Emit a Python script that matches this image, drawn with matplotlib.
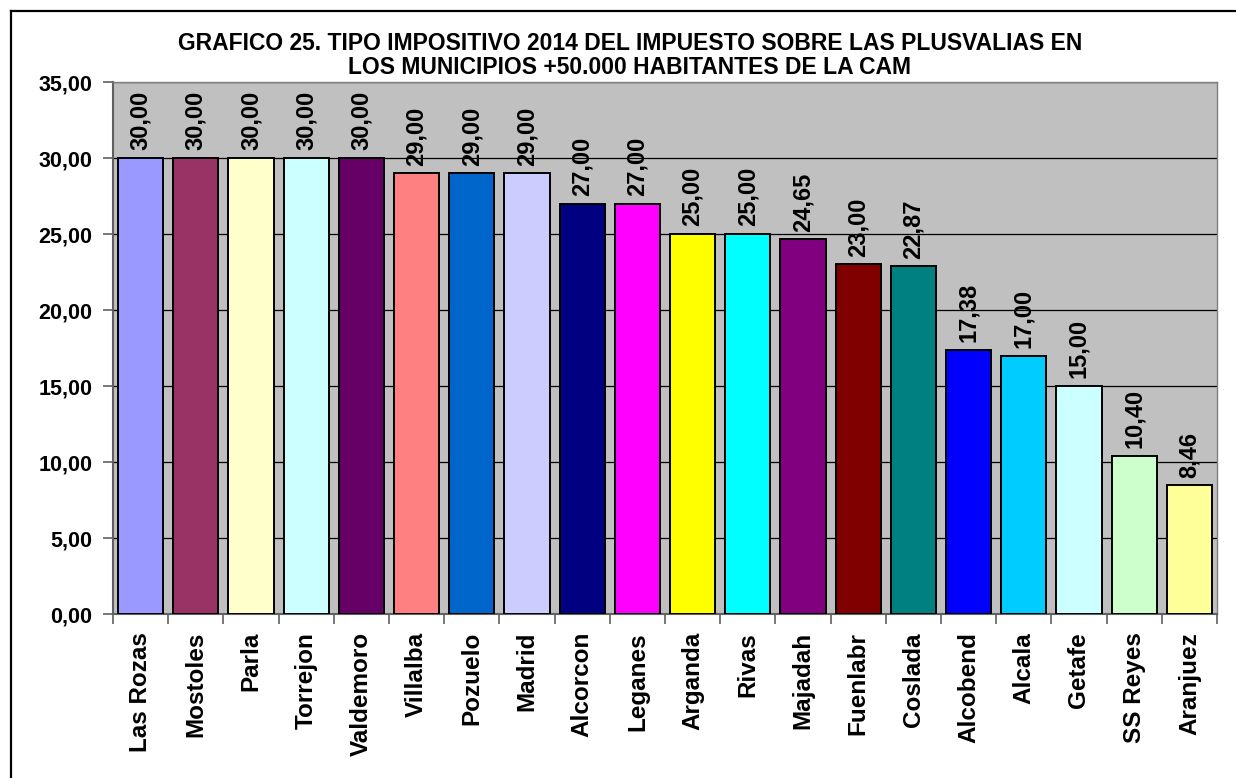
import numpy as np
import matplotlib
matplotlib.use('Agg')
import matplotlib.pyplot as plt
from matplotlib.lines import Line2D

# Data
municipios = ['Las Rozas', 'Mostoles', 'Parla', 'Torrejon', 'Valdemoro', 'Villalba',
              'Pozuelo', 'Madrid', 'Alcorcon', 'Leganes', 'Arganda', 'Rivas',
              'Majadah', 'Fuenlabr', 'Coslada', 'Alcobend', 'Alcala', 'Getafe',
              'SS Reyes', 'Aranjuez']
tipos = [30.00, 30.00, 30.00, 30.00, 30.00, 29.00, 29.00, 29.00, 27.00, 27.00,
         25.00, 25.00, 24.65, 23.00, 22.87, 17.38, 17.00, 15.00, 10.40, 8.46]
colores = ['#9999FF', '#993366', '#FFFFCC', '#CCFFFF', '#660066', '#FF8080',
           '#0066CC', '#CCCCFF', '#000080', '#FF00FF', '#FFFF00', '#00FFFF',
           '#800080', '#800000', '#008080', '#0000FF', '#00CCFF', '#CCFFFF',
           '#CCFFCC', '#FFFF99']
yticks = [0, 5, 10, 15, 20, 25, 30, 35]

plt.rcParams['font.family'] = ['Liberation Sans', 'DejaVu Sans']
plt.rcParams['font.weight'] = 'bold'

W, H = 1236, 778
fig = plt.figure(figsize=(W / 100, H / 100), dpi=100)
ax = fig.add_axes([113 / W, 1 - 614 / H, (1217 - 113) / W, (614 - 82) / H])
ax.set_facecolor('#C0C0C0')

x = np.arange(len(municipios))
ax.bar(x, tipos, width=0.82, color=colores, edgecolor='black', linewidth=1.4, zorder=3)

for xi, v in zip(x, tipos):
    ax.text(xi, v + 0.5, f'{v:.2f}'.replace('.', ','), rotation=90,
            ha='center', va='bottom', fontsize=17, fontweight='bold', zorder=4)

ax.set_xlim(-0.5, len(municipios) - 0.5)
ax.set_ylim(0, 35)
ax.set_yticks(yticks)
ax.set_yticklabels([f'{t:.2f}'.replace('.', ',') for t in yticks],
                   fontsize=15.5, fontweight='bold')
ax.yaxis.grid(True, color='black', linewidth=0.9, zorder=0)
ax.set_axisbelow(True)

ax.set_xticks(x)
ax.set_xticklabels(municipios, rotation=90, fontsize=17.5, fontweight='bold')
ax.tick_params(axis='x', length=0, pad=13)
ax.set_xticks(np.arange(-0.5, len(municipios)), minor=True)
ax.tick_params(axis='x', which='minor', length=7, color='#606060', width=1.2)
ax.tick_params(axis='y', length=7, color='#606060', width=1.2, pad=8)

for s in ['top', 'right']:
    ax.spines[s].set_color('#808080')
    ax.spines[s].set_linewidth(1)
for s in ['left', 'bottom']:
    ax.spines[s].set_color('#606060')
    ax.spines[s].set_linewidth(1.5)

fig.text(630 / W, 1 - 43 / H, 'GRAFICO 25. TIPO IMPOSITIVO 2014 DEL IMPUESTO SOBRE LAS PLUSVALIAS EN',
         ha='center', va='center', fontsize=16.5, fontweight='bold')
fig.text(630 / W, 1 - 67 / H, 'LOS MUNICIPIOS +50.000 HABITANTES DE LA CAM',
         ha='center', va='center', fontsize=16.5, fontweight='bold')

# chart border (left and top visible)
fig.add_artist(Line2D([11 / W, 11 / W], [0, 1 - 11 / H], color='black', linewidth=1.6,
                      transform=fig.transFigure))
fig.add_artist(Line2D([11 / W, 1], [1 - 11 / H, 1 - 11 / H], color='black', linewidth=1.6,
                      transform=fig.transFigure))

fig.savefig('out.png', dpi=100, facecolor='white')
